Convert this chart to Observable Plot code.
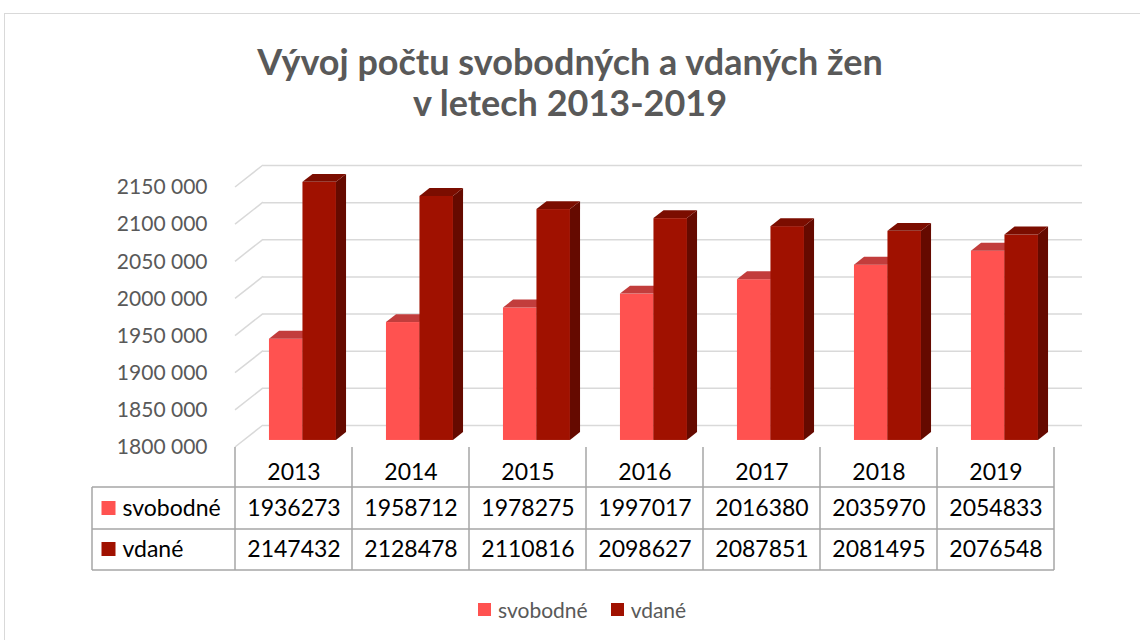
<!DOCTYPE html>
<html><head><meta charset="utf-8">
<script src="https://cdn.jsdelivr.net/npm/d3@7"></script>
<script src="https://cdn.jsdelivr.net/npm/@observablehq/plot@0.6"></script>
<style>
html,body{margin:0;padding:0;background:#fff;width:1140px;height:640px;overflow:hidden;font-family:Lato,"Open Sans",sans-serif;}
#frame{position:absolute;left:4px;top:13px;width:1160px;height:660px;border:1.5px solid #d9d9d9;box-sizing:border-box;}
#chart{position:absolute;left:0;top:0;}
#title{position:absolute;left:0;top:41px;width:1140px;text-align:center;font-weight:700;font-size:36px;line-height:41px;color:#595959;}
#legend{position:absolute;left:478px;top:598px;height:22px;display:flex;align-items:center;font-size:21px;color:#595959;}
#legend .item{display:flex;align-items:center;margin-right:23px;}
#legend .sw{width:13px;height:13px;margin-right:7px;}
</style></head><body>
<div id="frame"></div>
<div id="chart"></div>
<div id="title">Vývoj počtu svobodných a vdaných žen<br>v letech 2013-2019</div>
<div id="legend"></div>
<script>
// ---- data ----
const years = ["2013", "2014", "2015", "2016", "2017", "2018", "2019"];
const svobodne = [1936273, 1958712, 1978275, 1997017, 2016380, 2035970, 2054833];
const vdane = [2147432, 2128478, 2110816, 2098627, 2087851, 2081495, 2076548];
const seriesNames = ["svobodné", "vdané"];
const yTicks = [1800000, 1850000, 1900000, 1950000, 2000000, 2050000, 2100000, 2150000];

// ---- styles / layout ----
const seriesColors = [
  {front: "#ff5250", top: "#c23d3c", side: "#b93534"},
  {front: "#a01100", top: "#7b0d00", side: "#650a00"}
];
const W = 1140, H = 640;
const ML = 235, MR = 1140 - 1054, MT = 187, MB = 640 - 447;
const DX = 28, DY = -22;          // depth vector of the 3D box
const F1 = 0.32, F2 = 0.68;        // bar front / back depth fractions
const bw = (W - ML - MR) / years.length;
const inset = 0.2137 * bw, barW = 0.2863 * bw;
const gridColor = "#d9d9d9", tableColor = "#a6a6a6";
const rowDy = [61, 102], headerDy = 25;
const tableLeft = 92, rowLines = [487, 529, 570];

const series = [svobodne, vdane];
const data = seriesNames.map((s, si) => years.map((y, i) => ({year: y, series: s, value: series[si][i]})));
const yMin = yTicks[0];
const fmt = v => `${Math.floor(v / 1000)} ${String(v % 1000).padStart(3, "0")}`;

const layer = draw => (index, scales, values, dims) => {
  const g = d3.create("svg:g");
  draw(g, scales, dims);
  return g.node();
};
const bandStart = (scales, y) => scales.x(y);

// diagonal gridlines on the left side wall
const diagonals = layer((g, s) => {
  for (const t of yTicks) {
    const y = s.y(t);
    g.append("line").attr("x1", ML).attr("y1", y).attr("x2", ML + DX).attr("y2", y + DY)
      .attr("stroke", gridColor).attr("stroke-width", 1.5);
  }
});

// top and side faces of 3D bars
const faces = si => layer((g, s) => {
  const c = seriesColors[si];
  for (const d of data[si]) {
    const x0 = bandStart(s, d.year) + inset + si * barW, x1 = x0 + barW;
    const yt = s.y(d.value), yb = s.y(yMin);
    const a = [DX * F1, DY * F1], b = [DX * F2, DY * F2];
    const top = [[x0 + a[0], yt + a[1]], [x1 + a[0], yt + a[1]], [x1 + b[0], yt + b[1]], [x0 + b[0], yt + b[1]]];
    const side = [[x1 + a[0], yt + a[1]], [x1 + b[0], yt + b[1]], [x1 + b[0], yb + b[1]], [x1 + a[0], yb + a[1]]];
    g.append("polygon").attr("points", side.join(" ")).attr("fill", c.side);
    g.append("polygon").attr("points", top.join(" ")).attr("fill", c.top);
  }
});

// data table grid + legend keys
const tableGrid = layer((g, s) => {
  const edges = years.map(y => bandStart(s, y)).concat([bandStart(s, years[years.length - 1]) + bw]);
  const yb = s.y(yMin);
  for (const x of edges) {
    g.append("line").attr("x1", x).attr("x2", x).attr("y1", yb).attr("y2", rowLines[2])
      .attr("stroke", tableColor).attr("stroke-width", 1.5);
  }
  g.append("line").attr("x1", tableLeft).attr("x2", tableLeft).attr("y1", rowLines[0]).attr("y2", rowLines[2])
    .attr("stroke", tableColor).attr("stroke-width", 1.5);
  for (const y of rowLines) {
    g.append("line").attr("x1", tableLeft).attr("x2", edges[edges.length - 1]).attr("y1", y).attr("y2", y)
      .attr("stroke", tableColor).attr("stroke-width", 1.5);
  }
  seriesNames.forEach((n, si) => {
    g.append("rect").attr("x", 101.5).attr("y", yb + rowDy[si] - 7).attr("width", 14).attr("height", 14)
      .attr("fill", seriesColors[si].front);
  });
});

const marks = [
  Plot.ruleY(yTicks, {y: d => d, dx: DX, dy: DY, stroke: gridColor, strokeWidth: 1.5}),
  diagonals,
  Plot.axisY(yTicks, {tickSize: 0, tickPadding: 28, tickFormat: fmt, fontSize: 21, label: null, fill: "#595959"})
];
seriesNames.forEach((n, si) => {
  marks.push(Plot.barY(data[si], {
    x: "year", y1: () => yMin, y2: "value", fill: seriesColors[si].front,
    insetLeft: inset + si * barW, insetRight: bw - inset - (si + 1) * barW,
    dx: DX * F1, dy: DY * F1
  }));
  marks.push(faces(si));
});
marks.push(tableGrid);
marks.push(Plot.text(years, {x: d => d, text: d => d, frameAnchor: "bottom", lineAnchor: "middle", dy: headerDy, fontSize: 23, fill: "#000"}));
seriesNames.forEach((n, si) => {
  marks.push(Plot.text(data[si], {x: "year", text: d => String(d.value), frameAnchor: "bottom", lineAnchor: "middle", dy: rowDy[si], fontSize: 23, fill: "#000"}));
  marks.push(Plot.text([n], {text: d => d, frameAnchor: "bottom-left", lineAnchor: "middle", dx: 122 - ML, dy: rowDy[si], textAnchor: "start", fontSize: 23, fill: "#000"}));
});

const chart = Plot.plot({
  width: W, height: H,
  marginLeft: ML, marginRight: MR, marginTop: MT, marginBottom: MB,
  x: {type: "band", domain: years, padding: 0, axis: null},
  y: {domain: [yTicks[0], yTicks[yTicks.length - 1]], axis: null},
  style: {fontFamily: "Lato, 'Open Sans', sans-serif", color: "#595959", background: "transparent", overflow: "visible"},
  marks
});
document.getElementById("chart").appendChild(chart);

// legend
const lg = d3.select("#legend");
seriesNames.forEach((n, si) => {
  const it = lg.append("div").attr("class", "item");
  it.append("div").attr("class", "sw").style("background", seriesColors[si].front);
  it.append("span").text(n);
});
</script>
</body></html>
